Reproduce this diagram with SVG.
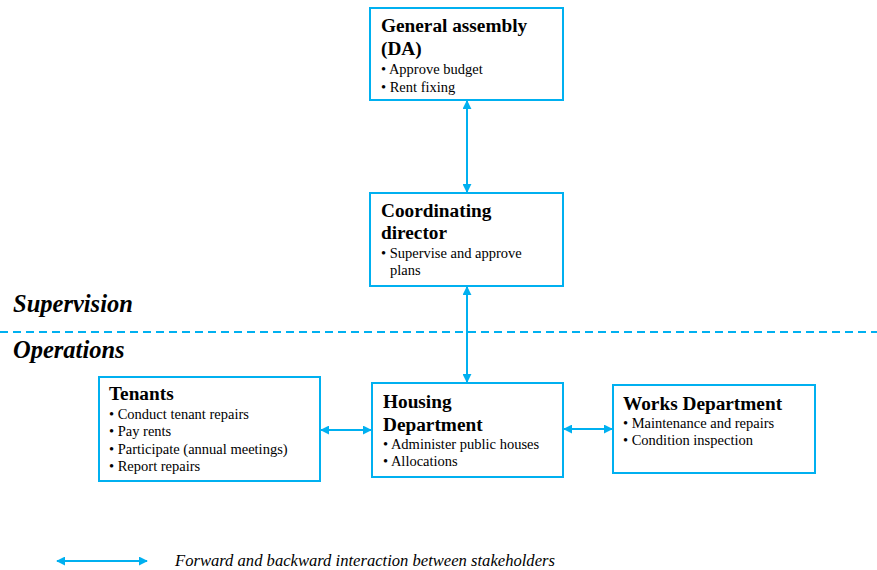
<svg xmlns="http://www.w3.org/2000/svg" width="877" height="570" viewBox="0 0 877 570">
<style>
.box{fill:#fff;stroke:#00B0F0;stroke-width:2}
.con{stroke:#00B0F0;stroke-width:2;fill:none;marker-start:url(#ah);marker-end:url(#ah)}
text{font-family:'Liberation Serif','Times New Roman','DejaVu Serif',serif;fill:#000}
.t{font-weight:bold;font-size:19.3px}
.b{font-size:14.5px}
.sec{font-weight:bold;font-style:italic;font-size:24.5px}
.leg{font-style:italic;font-size:16.6px}
</style>
<defs>
<marker id="ah" viewBox="0 0 10 10" refX="9" refY="5" markerWidth="4.5" markerHeight="4.5" orient="auto-start-reverse" markerUnits="strokeWidth">
<path d="M0,0 L10,5 L0,10 z" fill="#00B0F0"/>
</marker>
</defs>
<rect width="877" height="570" fill="#fff"/>
<text class="sec" x="13" y="312">Supervision</text>
<line x1="0" y1="332" x2="877" y2="332" stroke="#00B0F0" stroke-width="2" stroke-dasharray="8,5"/>
<text class="sec" x="13" y="358">Operations</text>
<g id="connectors">
<line class="con" x1="467" y1="101" x2="467" y2="192"/>
<line class="con" x1="467" y1="287" x2="467" y2="382"/>
<line class="con" x1="321" y1="430" x2="371" y2="430"/>
<line class="con" x1="564" y1="429" x2="612" y2="429"/>
<line class="con" x1="57" y1="561" x2="147" y2="561"/>
</g>
<g id="general-assembly">
<rect class="box" x="370" y="8" width="193" height="92"/>
<text class="t" x="381" y="32">General assembly</text>
<text class="t" x="381" y="55">(DA)</text>
<text class="b" x="381" y="74">• Approve budget</text>
<text class="b" x="381" y="92">• Rent fixing</text>
</g>
<g id="coordinating-director">
<rect class="box" x="370" y="193" width="193" height="93"/>
<text class="t" x="381" y="217">Coordinating</text>
<text class="t" x="381" y="239">director</text>
<text class="b" x="381" y="258">• Supervise and approve</text>
<text class="b" x="390" y="275">plans</text>
</g>
<g id="tenants">
<rect class="box" x="99" y="377" width="221" height="104"/>
<text class="t" x="109" y="400">Tenants</text>
<text class="b" x="109" y="419">• Conduct tenant repairs</text>
<text class="b" x="109" y="436">• Pay rents</text>
<text class="b" x="109" y="454">• Participate (annual meetings)</text>
<text class="b" x="109" y="471">• Report repairs</text>
</g>
<g id="housing-department">
<rect class="box" x="372" y="383" width="191" height="94"/>
<text class="t" x="383" y="408">Housing</text>
<text class="t" x="383" y="431">Department</text>
<text class="b" x="383" y="449">• Administer public houses</text>
<text class="b" x="383" y="466">• Allocations</text>
</g>
<g id="works-department">
<rect class="box" x="613" y="385" width="202" height="88"/>
<text class="t" x="623" y="410">Works Department</text>
<text class="b" x="623" y="428">• Maintenance and repairs</text>
<text class="b" x="623" y="445">• Condition inspection</text>
</g>
<text class="leg" x="175" y="566">Forward and backward interaction between stakeholders</text>
</svg>
